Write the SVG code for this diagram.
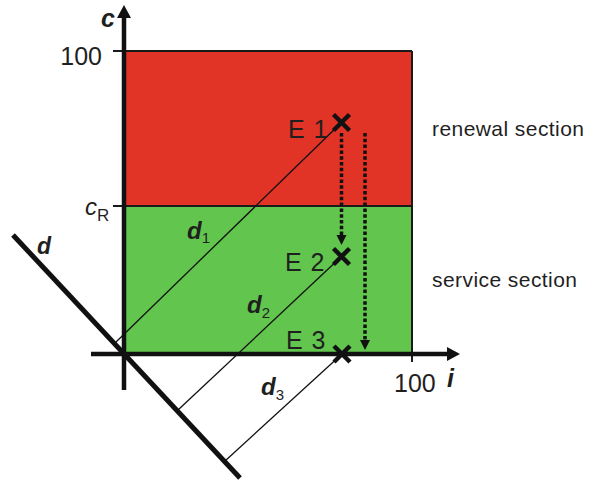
<svg xmlns="http://www.w3.org/2000/svg" width="592" height="482" viewBox="0 0 592 482">
<defs>
<style>
text{font-family:"Liberation Sans",Arial,sans-serif;fill:#1f1f1f}
.num{font-size:25px}
.sec{font-size:21px}
.var{font-style:italic;font-weight:bold}
.sub{font-style:normal;font-weight:normal}
.axis{stroke:#111;stroke-width:4.5;fill:none}
.edge{stroke:#1a1a1a;stroke-width:2;fill:none}
.proj{stroke:#111;stroke-width:1.3;fill:none}
.cross{stroke:#111;stroke-width:4.5;fill:none}
.dot{stroke:#111;stroke-width:3.5;stroke-dasharray:3.5 2.3;fill:none}
.dline{stroke:#111;stroke-width:5;fill:none}
</style>
<marker id="axhead" markerUnits="userSpaceOnUse" markerWidth="14" markerHeight="14" refX="0" refY="7" orient="auto" overflow="visible">
<path d="M0,0 L13,7 L0,14 z" fill="#111" stroke="none"/>
</marker>
<marker id="dhead" markerUnits="userSpaceOnUse" markerWidth="10" markerHeight="10" refX="0" refY="5" orient="auto" overflow="visible">
<path d="M0,0 L10,5 L0,10 z" fill="#111" stroke="none"/>
</marker>
</defs>
<g id="regions">
<rect id="renewal" x="124" y="51" width="288" height="155" fill="#E13326"/>
<rect id="service" x="124" y="206" width="288" height="148" fill="#62C54E"/>
<line class="edge" x1="113" y1="51" x2="412" y2="51"/>
<line class="edge" x1="113" y1="206" x2="412" y2="206"/>
<line class="edge" x1="412" y1="51" x2="412" y2="362"/>
</g>
<g id="axes">
<line class="axis" x1="124" y1="390" x2="124" y2="18" marker-end="url(#axhead)"/>
<line class="axis" x1="91" y1="354" x2="447" y2="354" marker-end="url(#axhead)"/>
<line class="dline" x1="13" y1="235" x2="240" y2="478"/>
<text class="var" x="101" y="27" font-size="25">c</text>
<text class="var" x="447" y="387" font-size="25">i</text>
<text class="var" x="37" y="254" font-size="23">d</text>
<text class="num" x="102" y="65" text-anchor="end">100</text>
<text class="num" x="394" y="392">100</text>
<text x="85" y="215" font-size="24" font-style="italic">c<tspan font-size="17" font-style="normal" dy="6">R</tspan></text>
</g>
<g id="labels">
<text class="sec" x="432" y="136" textLength="152" lengthAdjust="spacing">renewal section</text>
<text class="sec" x="432" y="287" textLength="145" lengthAdjust="spacing">service section</text>
</g>
<g id="connectors">
<line class="proj" x1="341.5" y1="122.5" x2="116" y2="342"/>
<line class="proj" x1="341.5" y1="256.5" x2="178" y2="410"/>
<line class="proj" x1="342" y1="354" x2="225" y2="461"/>
<line class="dot" x1="341.5" y1="133" x2="341.5" y2="235" marker-end="url(#dhead)"/>
<line class="dot" x1="365" y1="133" x2="365" y2="340" marker-end="url(#dhead)"/>
<text class="var" x="187" y="239" font-size="24">d<tspan class="sub" font-size="15" dy="4">1</tspan></text>
<text class="var" x="247" y="313" font-size="24">d<tspan class="sub" font-size="15" dy="5">2</tspan></text>
<text class="var" x="261" y="395" font-size="24">d<tspan class="sub" font-size="15" dy="5">3</tspan></text>
</g>
<g id="E1">
<path class="cross" d="M333.5,114.5 L349.5,130.5 M349.5,114.5 L333.5,130.5"/>
<text class="num" x="288" y="138" letter-spacing="1">E 1</text>
</g>
<g id="E2">
<path class="cross" d="M333.5,248.5 L349.5,264.5 M349.5,248.5 L333.5,264.5"/>
<text class="num" x="285" y="271" letter-spacing="1">E 2</text>
</g>
<g id="E3">
<path class="cross" d="M334,346 L350,362 M350,346 L334,362"/>
<text class="num" x="286" y="349" letter-spacing="1">E 3</text>
</g>
</svg>
